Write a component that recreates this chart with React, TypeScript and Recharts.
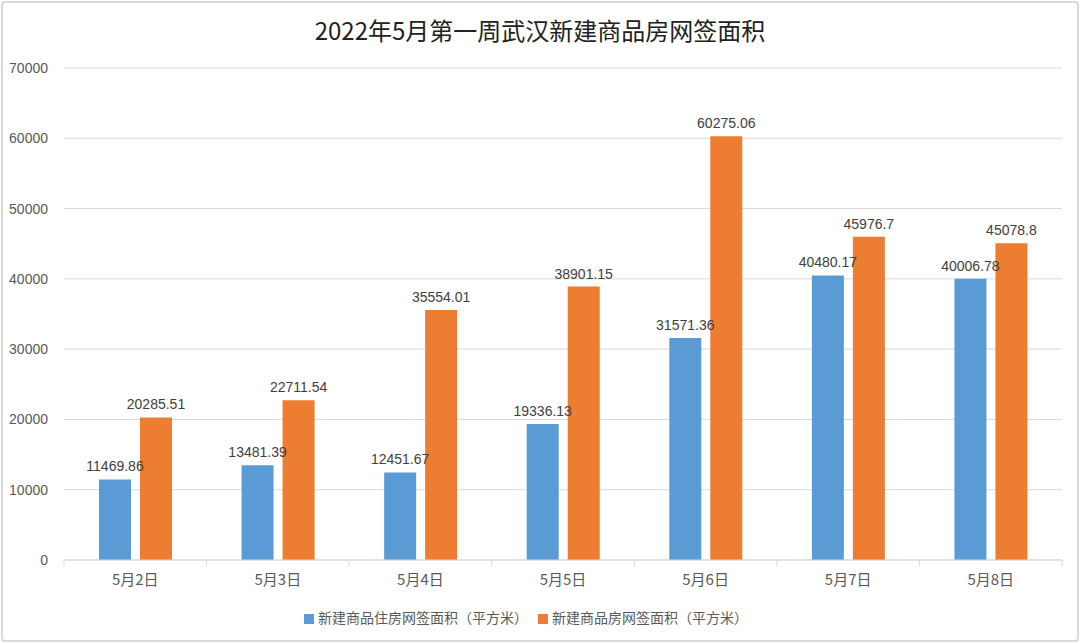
import { BarChart, Bar, XAxis, YAxis, CartesianGrid, Legend, LabelList } from "recharts";

const categories = ["5月2日", "5月3日", "5月4日", "5月5日", "5月6日", "5月7日", "5月8日"];
const residentialArea = [11469.86, 13481.39, 12451.67, 19336.13, 31571.36, 40480.17, 40006.78];
const commercialArea = [20285.51, 22711.54, 35554.01, 38901.15, 60275.06, 45976.7, 45078.8];
const yTicks = [0, 10000, 20000, 30000, 40000, 50000, 60000, 70000];

const seriesNames = {
  residential: "新建商品住房网签面积（平方米）",
  commercial: "新建商品房网签面积（平方米）",
};

const data = categories.map((day, i) => ({
  day,
  residential: residentialArea[i],
  commercial: commercialArea[i],
}));

const BAND = (1062 - 64) / categories.length;

// category label plus the boundary tick marks Excel draws between groups
const DayTick = (props: any) => {
  const { x, y, payload, index } = props;
  const left = x - BAND / 2;
  return (
    <g>
      <line x1={left} y1={y - 8} x2={left} y2={y - 2} stroke="#d9d9d9" />
      {index === categories.length - 1 && (
        <line x1={x + BAND / 2} y1={y - 8} x2={x + BAND / 2} y2={y - 2} stroke="#d9d9d9" />
      )}
      <text x={x} y={y + 17} textAnchor="middle" fill="#595959" fontSize={15}>
        {payload.value}
      </text>
    </g>
  );
};

export default function App() {
  return (
    <div
      style={{
        position: "absolute",
        left: 0,
        top: 0,
        width: 1080,
        height: 643,
        background: "#fff",
        fontFamily: "'Noto Sans CJK SC', 'Liberation Sans', sans-serif",
      }}
    >
      <div
        style={{
          position: "absolute",
          left: 1,
          top: 1,
          width: 1074,
          height: 637,
          border: "2px solid #d9d9d9",
          borderRadius: 4,
        }}
      />
      <div
        style={{
          position: "absolute",
          top: 12,
          width: 1080,
          textAlign: "center",
          fontSize: 24,
          lineHeight: "36px",
          color: "#222",
        }}
      >
        2022年5月第一周武汉新建商品房网签面积
      </div>
      <BarChart
        width={1080}
        height={643}
        data={data}
        margin={{ top: 68, right: 18, left: 0, bottom: 31 }}
        barCategoryGap="24%"
        barGap={9}
        style={{ position: "absolute", left: 0, top: 0 }}
      >
        <CartesianGrid vertical={false} stroke="#d9d9d9" />
        <XAxis
          dataKey="day"
          tickLine={false}
          axisLine={{ stroke: "#d9d9d9" }}
          tick={<DayTick />}
          height={32}
          interval={0}
        />
        <YAxis
          width={64}
          domain={[0, 70000]}
          ticks={yTicks}
          axisLine={false}
          tickLine={false}
          tick={{ fill: "#595959", fontSize: 14, fontFamily: "'Liberation Sans', sans-serif" }}
          tickMargin={10}
        />
        <Legend
          verticalAlign="bottom"
          iconType="square"
          iconSize={10}
          wrapperStyle={{ fontSize: 14, color: "#595959", bottom: 16 }}
          formatter={(value: string) => <span style={{ color: "#595959" }}>{value}</span>}
        />
        <Bar
          dataKey="residential"
          name={seriesNames.residential}
          fill="#5b9bd5"
          barSize={32}
          isAnimationActive={false}
        >
          <LabelList
            dataKey="residential"
            position="top"
            offset={8}
            fill="#404040"
            fontSize={14}
            fontFamily="'Liberation Sans', sans-serif"
          />
        </Bar>
        <Bar
          dataKey="commercial"
          name={seriesNames.commercial}
          fill="#ed7d31"
          barSize={32}
          isAnimationActive={false}
        >
          <LabelList
            dataKey="commercial"
            position="top"
            offset={8}
            fill="#404040"
            fontSize={14}
            fontFamily="'Liberation Sans', sans-serif"
          />
        </Bar>
      </BarChart>
    </div>
  );
}
